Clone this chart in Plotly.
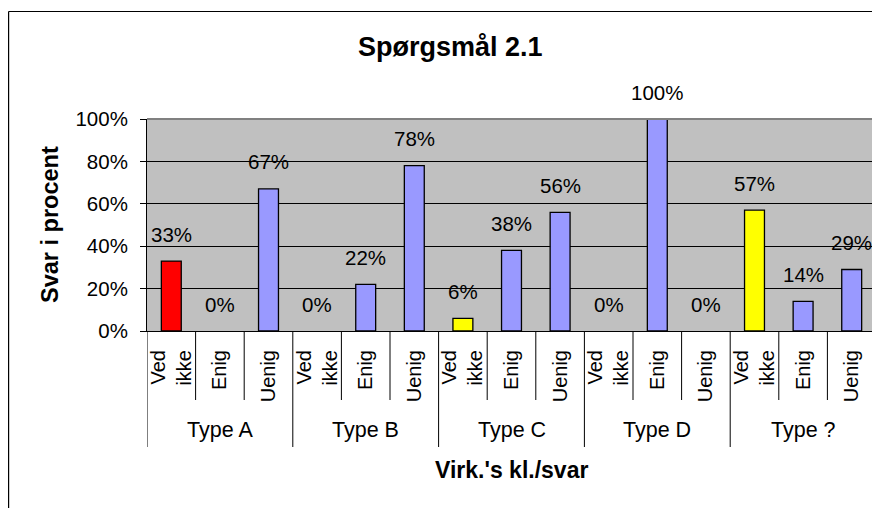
import plotly.graph_objects as go

groups = ["Type A", "Type B", "Type C", "Type D", "Type ?"]
answers = ["Ved<br>ikke", "Enig", "Uenig"]
values = [33, 0, 67,
          0, 22, 78,
          6, 38, 56,
          0, 100, 0,
          57, 14, 29]
bar_colors = ["#FF0000", "#9999FF", "#9999FF",
              "#9999FF", "#9999FF", "#9999FF",
              "#FFFF00", "#9999FF", "#9999FF",
              "#9999FF", "#9999FF", "#9999FF",
              "#FFFF00", "#9999FF", "#9999FF"]
y_ticks = [0, 20, 40, 60, 80, 100]

FONT = "Liberation Sans, Arial, sans-serif"
n_per = len(answers)
xs = list(range(len(values)))
tick_text = [answers[i % n_per] for i in xs]

# page offset (default body margin of the html page)
OFF = 8
FW, FH = 880, 508
# plot area in page pixels
PL, PR, PT, PB = 147, 876, 119, 331
L, T = PL - OFF, PT - OFF
R, B = FW - (PR - OFF), FH - (PB - OFF)
W, H = PR - PL, PB - PT


def py(p):
    return (PB - p) / H


def px(p):
    return (p - PL) / W


fig = go.Figure()
fig.add_trace(go.Bar(
    x=xs, y=values, width=0.41,
    marker=dict(color=bar_colors,
                line=dict(color="black", width=[1.3 if v > 0 else 0 for v in values])),
    hoverinfo="skip",
))

annotations = []
for x, v in zip(xs, values):
    annotations.append(dict(x=x, y=v, xref="x", yref="y", text=f"{v}%",
                            showarrow=False, yshift=27, yanchor="middle",
                            font=dict(family=FONT, size=20.5, color="black")))

shapes = []
# dividers
for i in range(len(values) + 1):
    xb = i - 0.5
    is_group = (i % n_per == 0)
    shapes.append(dict(type="line", xref="x", yref="paper", x0=xb, x1=xb,
                       y0=0, y1=py(447) if is_group else py(400),
                       line=dict(color="black", width=1)))
for gi, g in enumerate(groups):
    annotations.append(dict(x=gi * n_per + (n_per - 1) / 2, y=py(430), xref="x", yref="paper",
                            text=g, showarrow=False, yanchor="middle",
                            font=dict(family=FONT, size=21.5, color="black")))

# plot-area top/right border (gray)
shapes.append(dict(type="line", xref="paper", yref="paper", x0=0, x1=1, y0=1, y1=1,
                   line=dict(color="#808080", width=2)))
shapes.append(dict(type="line", xref="paper", yref="paper", x0=1, x1=1, y0=0, y1=1,
                   line=dict(color="#808080", width=2)))
# chart outer border
shapes.append(dict(type="line", xref="paper", yref="paper", x0=px(8.6), x1=px(8.6),
                   y0=py(530), y1=py(11.5), line=dict(color="black", width=1.2)))
shapes.append(dict(type="line", xref="paper", yref="paper", x0=px(8.6), x1=px(900),
                   y0=py(11.5), y1=py(11.5), line=dict(color="black", width=1.2)))

annotations.append(dict(x=0.5, y=py(470), xref="paper", yref="paper",
                        text="<b>Virk.'s kl./svar</b>", showarrow=False, yanchor="middle",
                        font=dict(family=FONT, size=23, color="black")))
annotations.append(dict(x=px(50), y=0.5, xref="paper", yref="paper",
                        text="<b>Svar i procent</b>", showarrow=False, textangle=-90,
                        xanchor="center", yanchor="middle",
                        font=dict(family=FONT, size=23.5, color="black")))
annotations.append(dict(x=px(450), y=py(47), xref="paper", yref="paper",
                        text="<b>Spørgsmål 2.1</b>", showarrow=False,
                        xanchor="center", yanchor="middle",
                        font=dict(family=FONT, size=27, color="black")))

fig.update_layout(
    width=FW, height=FH,
    margin=dict(l=L, r=R, t=T, b=B),
    paper_bgcolor="white", plot_bgcolor="#C0C0C0",
    showlegend=False,
    xaxis=dict(range=[-0.5, len(values) - 0.5], tickmode="array", tickvals=xs,
               ticktext=tick_text, tickangle=-90, ticks="", showgrid=False,
               zeroline=False, showline=True, linecolor="black", linewidth=1,
               tickfont=dict(family=FONT, size=20, color="black"),
               ticklabelstandoff=10, fixedrange=True),
    yaxis=dict(range=[0, 100], tickmode="array", tickvals=y_ticks,
               ticktext=[f"{t}%" for t in y_ticks], ticks="outside", ticklen=6,
               tickcolor="black", showgrid=True, gridcolor="black", gridwidth=1,
               zeroline=False, showline=True, linecolor="black", linewidth=1,
               tickfont=dict(family=FONT, size=20.5, color="black"),
               ticklabelstandoff=8, fixedrange=True),
    shapes=shapes, annotations=annotations,
)

fig.write_html("out.html")
